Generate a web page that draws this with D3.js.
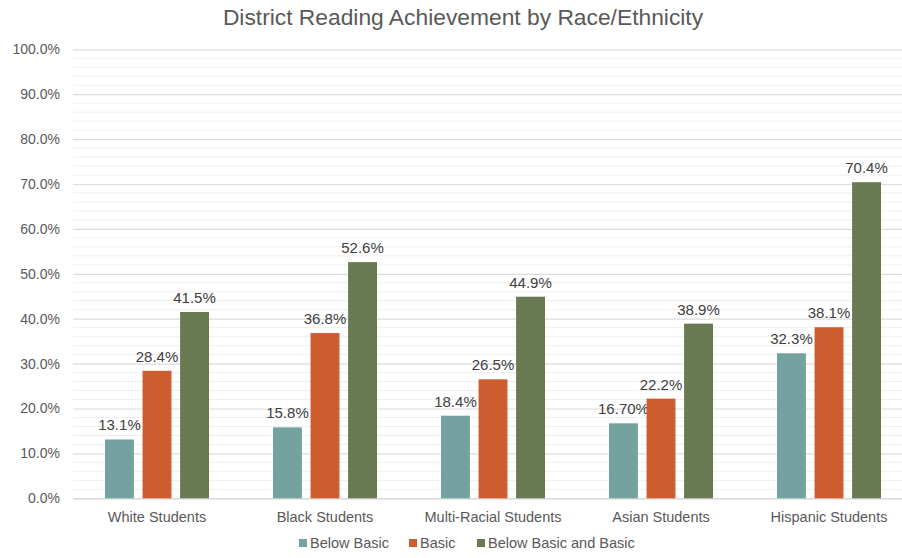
<!DOCTYPE html>
<html>
<head>
<meta charset="utf-8">
<script src="https://cdn.jsdelivr.net/npm/d3@7/dist/d3.min.js"></script>
<style>
  html, body { margin: 0; padding: 0; background: #fff; }
  svg { display: block; font-family: "Liberation Sans", Arial, sans-serif; }
</style>
</head>
<body>
<svg id="chart" width="902" height="558"></svg>
<script>
// Reading achievement shares by student group
const categories = ["White Students", "Black Students", "Multi-Racial Students", "Asian Students", "Hispanic Students"];
const seriesNames = ["Below Basic", "Basic", "Below Basic and Basic"];
const belowBasic = [13.1, 15.8, 18.4, 16.7, 32.3];
const basic = [28.4, 36.8, 26.5, 22.2, 38.1];
const belowBasicAndBasic = [41.5, 52.6, 44.9, 38.9, 70.4];
const valueLabels = [
  ["13.1%", "15.8%", "18.4%", "16.70%", "32.3%"],
  ["28.4%", "36.8%", "26.5%", "22.2%", "38.1%"],
  ["41.5%", "52.6%", "44.9%", "38.9%", "70.4%"]
];
const yTicks = [0, 10, 20, 30, 40, 50, 60, 70, 80, 90, 100];
const colors = ["#74A2A1", "#CD5C2E", "#6A7A53"];

const series = [belowBasic, basic, belowBasicAndBasic];

const svg = d3.select("#chart");
const margin = { left: 73, top: 49.3, bottom: 498.3 };
const plotRight = 913;

const x = d3.scaleBand().domain(categories).range([margin.left, plotRight]).paddingInner(0).paddingOuter(0);
const xSub = d3.scaleBand().domain(seriesNames).range([-52, 52]).paddingInner(0.23);
const y = d3.scaleLinear().domain([0, 100]).range([margin.bottom, margin.top]);

// minor gridlines every 2%
const minor = d3.range(2, 100, 2).filter(v => v % 10 !== 0);
svg.append("g").selectAll("line").data(minor).join("line")
  .attr("x1", margin.left).attr("x2", plotRight)
  .attr("y1", d => y(d)).attr("y2", d => y(d))
  .attr("stroke", "#EFEFEF").attr("stroke-width", 1);

// major gridlines + y axis labels
const yAxis = d3.axisLeft(y).tickValues(yTicks).tickSize(-(plotRight - margin.left)).tickPadding(13)
  .tickFormat(d => d.toFixed(1) + "%");
const gy = svg.append("g").attr("transform", `translate(${margin.left},0)`).call(yAxis);
gy.select(".domain").remove();
gy.selectAll(".tick line").attr("stroke", d => d === 0 ? "#D0D0D0" : "#DCDCDC").attr("stroke-width", 1.2);
gy.selectAll(".tick text").attr("fill", "#595959").style("font-size", "14px")
  .style("font-family", "'Liberation Sans', Arial, sans-serif");

// bars
const groups = svg.append("g").selectAll("g").data(categories).join("g")
  .attr("transform", c => `translate(${x(c) + x.bandwidth() / 2},0)`);

seriesNames.forEach((s, si) => {
  groups.append("rect")
    .attr("x", xSub(s))
    .attr("width", xSub.bandwidth())
    .attr("y", (c, ci) => y(series[si][ci]))
    .attr("height", (c, ci) => y(0) - y(series[si][ci]))
    .attr("fill", colors[si]);
  groups.append("text")
    .attr("x", xSub(s) + xSub.bandwidth() / 2)
    .attr("y", (c, ci) => y(series[si][ci]) - 9)
    .attr("text-anchor", "middle")
    .attr("fill", "#404040")
    .style("font-size", "15px")
    .text((c, ci) => valueLabels[si][ci]);
});

// x axis category labels
const xAxis = d3.axisBottom(x).tickSize(0).tickPadding(13);
const gx = svg.append("g").attr("transform", `translate(0,${margin.bottom})`).call(xAxis);
gx.select(".domain").remove();
gx.selectAll(".tick text").attr("fill", "#595959").style("font-size", "14.5px")
  .style("font-family", "'Liberation Sans', Arial, sans-serif");

// title
svg.append("text")
  .attr("x", 463).attr("y", 25)
  .attr("text-anchor", "middle")
  .attr("fill", "#595959")
  .style("font-size", "22.8px")
  .text("District Reading Achievement by Race/Ethnicity");

// legend
const legendX = [299, 409, 477];
const legend = svg.append("g").selectAll("g").data(seriesNames).join("g")
  .attr("transform", (d, i) => `translate(${legendX[i]},548)`);
legend.append("rect").attr("x", 0).attr("y", -9).attr("width", 8).attr("height", 8)
  .attr("fill", (d, i) => colors[i]);
legend.append("text").attr("x", 11).attr("y", 0)
  .attr("fill", "#595959").style("font-size", "14.5px").text(d => d);
</script>
</body>
</html>
